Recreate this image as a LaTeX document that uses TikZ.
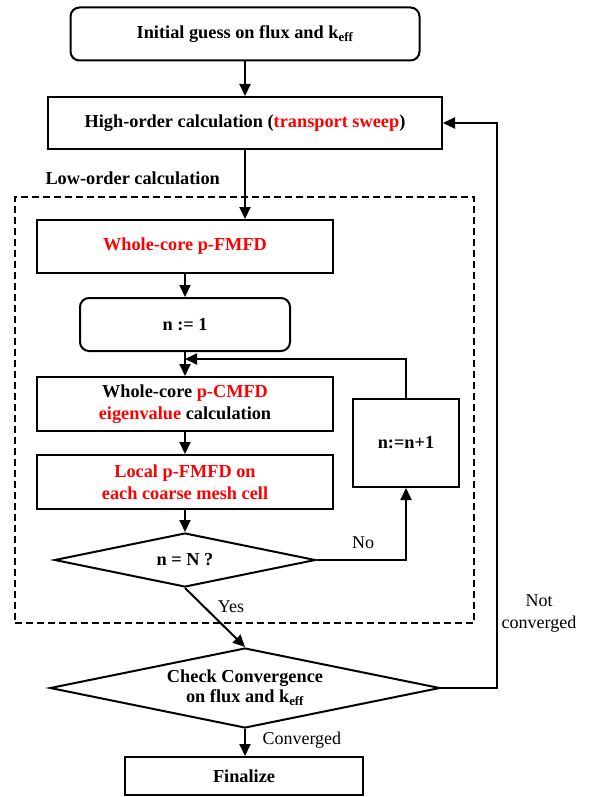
\documentclass[tikz,border=0pt]{standalone}
\usepackage{fontspec}
\setmainfont{Liberation Serif}
\usetikzlibrary{shapes.geometric,arrows.meta,calc}
\begin{document}
\begin{tikzpicture}[x=1pt,y=-1pt,
  font=\fontsize{18.3}{22}\selectfont\bfseries,
  box/.style={draw,line width=2pt,inner sep=0pt,align=center},
  rbox/.style={box,rounded corners=9pt},
  dia/.style={draw,line width=2pt,diamond,inner sep=0pt,align=center},
  arr/.style={line width=2pt,-{Triangle[length=12pt,width=11pt]}},
  lbl/.style={font=\fontsize{18}{22}\selectfont\mdseries}]
\useasboundingbox (0,0) rectangle (591,797);
% dashed low-order region
\node[draw,line width=2pt,dash pattern=on 7pt off 4pt,minimum width=459pt,minimum height=426pt,inner sep=0pt] (lowbox) at (244.5,410) {};
\node[anchor=west] (lowlbl) at (42,178) {Low-order calculation};
% nodes
\node[rbox,minimum width=349pt,minimum height=53pt] (init) at (245,34) {Initial guess on flux and k\textsubscript{eff}};
\node[box,minimum width=394pt,minimum height=52pt] (high) at (245,123) {High-order calculation (\textcolor{red}{transport sweep})};
\node[box,minimum width=296pt,minimum height=53pt] (pfmfd) at (185,246.5) {\textcolor{red}{Whole-core p-FMFD}};
\node[rbox,minimum width=210pt,minimum height=53pt] (n1) at (185,324.5) {n := 1};
\node[box,minimum width=296pt,minimum height=54pt] (cmfd) at (185,404) {Whole-core \textcolor{red}{p-CMFD}\\\textcolor{red}{eigenvalue} calculation};
\node[box,minimum width=296pt,minimum height=54pt] (local) at (185,482) {\textcolor{red}{Local p-FMFD on}\\\textcolor{red}{each coarse mesh cell}};
\node[dia,aspect=4.83,minimum width=261pt,minimum height=54pt] (nN) at (185,560) {n = N ?};
\node[box,minimum width=106pt,minimum height=88pt] (nplus) at (406,443) {n:=n+1};
\node[dia,aspect=4.875,minimum width=390pt,minimum height=80pt] (check) at (245,688) {\raisebox{-8pt}{\begin{tabular}{@{}c@{}}Check Convergence\\[-2pt]on flux and k\textsubscript{eff}\end{tabular}}};
\node[box,minimum width=238pt,minimum height=38pt] (final) at (244,776) {Finalize};
% helper coordinates
\coordinate (join) at (185,359);
\coordinate (retx) at (497,0);
% connectors
\draw[arr] (init.south) -- (high.north);
\draw[arr] (high.south) -- (high.south |- pfmfd.north);
\draw[arr] (pfmfd.south) -- (n1.north);
\draw[arr] (n1.south) -- (cmfd.north);
\draw[arr] (nplus.north) |- (join);
\draw[arr] (cmfd.south) -- (local.north);
\draw[arr] (local.south) -- (nN.north);
\draw[arr] (nN.east) -| (nplus.south);
\node[lbl] (nolbl) at (363,543) {No};
\draw[arr] (nN.south) -- (check.north);
\node[lbl] (yeslbl) at (231,607) {Yes};
\draw[arr] (check.south) -- (check.south |- final.north);
\node[lbl,anchor=west] (convlbl) at (259,740) {Converged};
\draw[arr] (check.east) -| (retx |- high.east) -- (high.east);
\node[lbl,align=center] (notconv) at (539,614) {Not\\converged};
\end{tikzpicture}
\end{document}
